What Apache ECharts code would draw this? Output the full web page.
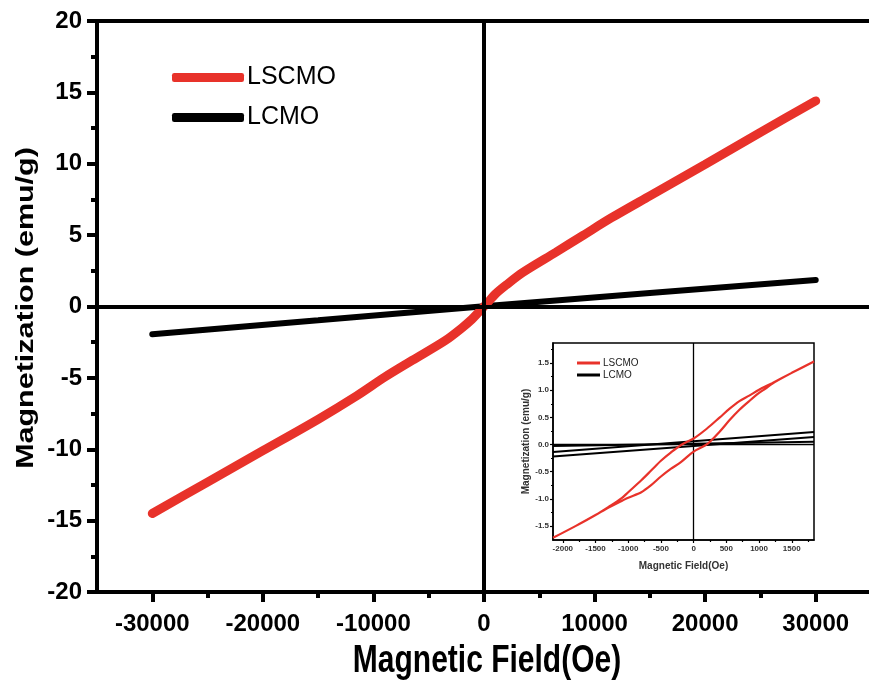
<!DOCTYPE html>
<html>
<head>
<meta charset="utf-8">
<script src="https://cdn.jsdelivr.net/npm/echarts@6/dist/echarts.min.js"></script>
<style>html,body{margin:0;padding:0;background:#fff;}#chart{width:869px;height:683px;}</style>
</head>
<body>
<div id="chart"></div>
<script>
// ---------- main plot data ----------
const lscmoMainField = [-30000,-25000,-20000,-15000,-11500,-9000,-6500,-3500,-2000,-1100,-500,0,500,1000,2000,3500,6500,9000,11500,15000,20000,25000,30000];
const lscmoMainMag   = [-14.5,-12.3,-10.1,-7.9,-6.25,-4.96,-3.78,-2.38,-1.5,-0.9,-0.42,0,0.42,0.85,1.5,2.38,3.8,5.0,6.2,7.75,9.95,12.2,14.4];
const lcmoMainField  = [-30000,-15000,0,15000,30000];
const lcmoMainMag    = [-1.95,-0.97,0.02,0.95,1.85];

// main axis ticks
const mainXMajor = [-30000,-20000,-10000,0,10000,20000,30000];
const mainXMinor = [-25000,-15000,-5000,5000,15000,25000];

// ---------- inset data (hysteresis loops) ----------
const lscmoInsetDescField = [1840,1500,1200,1000,850,700,550,400,200,0,-180,-350,-500,-650,-800,-1000,-1100,-1300,-1500,-1800,-2150];
const lscmoInsetDescMag   = [1.53,1.32,1.13,1.01,0.9,0.8,0.66,0.5,0.29,0.11,0,-0.15,-0.3,-0.48,-0.66,-0.88,-0.99,-1.15,-1.3,-1.5,-1.72];
const lscmoInsetAscField  = [-2150,-1800,-1500,-1300,-1100,-1000,-800,-650,-500,-350,-200,0,200,400,550,700,850,1000,1100,1200,1500,1840];
const lscmoInsetAscMag    = [-1.72,-1.5,-1.3,-1.16,-1.04,-0.98,-0.88,-0.75,-0.59,-0.45,-0.33,-0.13,0.0,0.24,0.45,0.64,0.8,0.95,1.03,1.12,1.32,1.53];
const lcmoInsetField   = [-2150,1840];
const lcmoInsetBranchA = [-0.14,0.23];
const lcmoInsetBranchB = [-0.22,0.14];
const lcmoInsetBranchC = [-0.03,0.05];

// inset axis ticks
const insetXMajor = [-2000,-1500,-1000,-500,0,500,1000,1500];
const insetXMinor = [-1750,-1250,-750,-250,250,750,1250,1750];
const insetYMajor = [-1.5,-1.0,-0.5,0.0,0.5,1.0,1.5];
const insetYMinor = [-1.25,-0.75,-0.25,0.25,0.75,1.25,1.75];

const FONT = '"Liberation Sans", Arial, sans-serif';
const RED = '#e8322a';
const zip = (a, b) => a.map((v, i) => [v, b[i]]);
const plain = v => String(Math.round(v));

const chart = echarts.init(document.getElementById('chart'));

// main grid: -35000 at left edge; the plot runs past the right edge of the picture
const MAIN_W = 790;
const MAIN_MAX = -35000 + 70000 * MAIN_W / 774;

const mainXCommon = {
  gridIndex: 0, type: 'value', min: -35000, max: MAIN_MAX, position: 'bottom',
  splitLine: { show: false }
};
const insetXCommon = {
  gridIndex: 1, type: 'value', min: -2150, max: 1840, position: 'bottom',
  splitLine: { show: false }
};
const insetYCommon = {
  gridIndex: 1, type: 'value', min: -1.76, max: 1.87, position: 'left',
  splitLine: { show: false }
};

chart.setOption({
  animation: false,
  backgroundColor: '#fff',
  grid: [
    { left: 97, top: 21, width: MAIN_W, height: 571, outerBoundsMode: 'none', containLabel: false,
      show: true, borderColor: '#000', borderWidth: 4, backgroundColor: 'transparent' },
    { left: 553, top: 343, width: 261, height: 197, outerBoundsMode: 'none', containLabel: false,
      show: true, borderColor: '#000', borderWidth: 1.5, backgroundColor: '#fff', z: 5 }
  ],
  xAxis: [
    Object.assign({}, mainXCommon, {
      axisLine: { onZero: false, lineStyle: { color: '#000', width: 4 } },
      axisTick: { show: true, customValues: mainXMajor, length: 10, lineStyle: { color: '#000', width: 4 } },
      axisLabel: { customValues: mainXMajor, formatter: plain, margin: 20, fontSize: 24, fontWeight: 'bold', color: '#000', fontFamily: FONT }
    }),
    Object.assign({}, mainXCommon, {
      axisLine: { show: false, onZero: false },
      axisTick: { show: true, customValues: mainXMinor, length: 6, lineStyle: { color: '#000', width: 4 } },
      axisLabel: { show: false }
    }),
    Object.assign({}, insetXCommon, {
      z: 6,
      axisLine: { onZero: false, lineStyle: { color: '#000', width: 1.5 } },
      axisTick: { show: true, customValues: insetXMajor, length: 3, lineStyle: { color: '#000', width: 1.2 } },
      axisLabel: { customValues: insetXMajor, formatter: plain, margin: 5, fontSize: 8, fontWeight: 'bold', color: '#333', fontFamily: FONT },
      name: 'Magnetic Field(Oe)', nameLocation: 'middle', nameGap: 21,
      nameTextStyle: { fontSize: 10, fontWeight: 'bold', color: '#333', fontFamily: FONT }
    }),
    Object.assign({}, insetXCommon, {
      z: 6,
      axisLine: { show: false, onZero: false },
      axisTick: { show: true, customValues: insetXMinor, length: 2, lineStyle: { color: '#000', width: 1.2 } },
      axisLabel: { show: false }
    })
  ],
  yAxis: [
    {
      gridIndex: 0, type: 'value', min: -20, max: 20, interval: 5, position: 'left',
      axisLine: { onZero: false, lineStyle: { color: '#000', width: 4 } },
      axisTick: { show: true, length: 10, lineStyle: { color: '#000', width: 4 } },
      minorTick: { show: true, splitNumber: 2, length: 6, lineStyle: { color: '#000', width: 4 } },
      axisLabel: { margin: 15, fontSize: 24, fontWeight: 'bold', color: '#000', fontFamily: FONT },
      splitLine: { show: false }, minorSplitLine: { show: false }
    },
    Object.assign({}, insetYCommon, {
      z: 6,
      axisLine: { onZero: false, lineStyle: { color: '#000', width: 1.5 } },
      axisTick: { show: true, customValues: insetYMajor, length: 3, lineStyle: { color: '#000', width: 1.2 } },
      axisLabel: { customValues: insetYMajor, margin: 4, fontSize: 8, fontWeight: 'bold', color: '#333', fontFamily: FONT,
                   formatter: v => Number(v).toFixed(1) },
      name: 'Magnetization (emu/g)', nameLocation: 'middle', nameGap: 22,
      nameTextStyle: { fontSize: 10, fontWeight: 'bold', color: '#333', fontFamily: FONT }
    }),
    Object.assign({}, insetYCommon, {
      z: 6,
      axisLine: { show: false, onZero: false },
      axisTick: { show: true, customValues: insetYMinor, length: 2, lineStyle: { color: '#000', width: 1.2 } },
      axisLabel: { show: false }
    })
  ],
  legend: [
    {
      data: ['LSCMO', 'LCMO'], orient: 'vertical', left: 172, top: 65, padding: 0,
      itemWidth: 72, itemHeight: 9, itemGap: 15, icon: 'roundRect',
      itemStyle: { borderWidth: 0 },
      textStyle: { fontSize: 25, color: '#000', fontFamily: FONT, padding: [0, 0, 0, -2] },
      selectedMode: false
    },
    {
      data: ['LSCMO', 'LCMO'], orient: 'vertical', left: 577, top: 358, padding: 0, z: 8,
      itemWidth: 23, itemHeight: 3, itemGap: 2, icon: 'rect',
      itemStyle: { borderWidth: 0 },
      textStyle: { fontSize: 10, color: '#222', fontFamily: FONT, padding: [0, 0, 0, -2] },
      selectedMode: false
    }
  ],
  graphic: [
    { type: 'text', x: 487, y: 662, scaleY: 1.27, z: 10,
      style: { text: 'Magnetic Field(Oe)', fontSize: 30, fontWeight: 'bold', fontFamily: FONT, fill: '#000', align: 'center', verticalAlign: 'middle' } },
    { type: 'text', x: 26, y: 308, rotation: Math.PI / 2, scaleX: 1.27, z: 10,
      style: { text: 'Magnetization (emu/g)', fontSize: 24, fontWeight: 'bold', fontFamily: FONT, fill: '#000', align: 'center', verticalAlign: 'middle' } }
  ],
  series: [
    {
      name: 'LCMO', type: 'line', xAxisIndex: 0, yAxisIndex: 0,
      data: zip(lcmoMainField, lcmoMainMag), showSymbol: false, symbol: 'none',
      itemStyle: { color: '#000' }, lineStyle: { color: '#000', width: 6, cap: 'round' },
      markLine: {
        silent: true, symbol: 'none', label: { show: false },
        lineStyle: { color: '#000', width: 4, type: 'solid' },
        data: [{ xAxis: 0 }, { yAxis: 0 }]
      }
    },
    {
      name: 'LSCMO', type: 'line', xAxisIndex: 0, yAxisIndex: 0,
      data: zip(lscmoMainField, lscmoMainMag), showSymbol: false, symbol: 'none', smooth: 0.3,
      itemStyle: { color: RED }, lineStyle: { color: RED, width: 9, cap: 'round' }
    },
    {
      name: 'LCMO', type: 'line', xAxisIndex: 2, yAxisIndex: 1, z: 6,
      data: zip(lcmoInsetField, lcmoInsetBranchA), showSymbol: false, symbol: 'none',
      itemStyle: { color: '#000' }, lineStyle: { color: '#000', width: 2 },
      markLine: {
        silent: true, symbol: 'none', label: { show: false },
        lineStyle: { color: '#000', width: 1.3, type: 'solid' },
        data: [{ xAxis: 0 }, { yAxis: 0 }]
      }
    },
    {
      name: 'LCMO', type: 'line', xAxisIndex: 2, yAxisIndex: 1, z: 6,
      data: zip(lcmoInsetField, lcmoInsetBranchB), showSymbol: false, symbol: 'none',
      itemStyle: { color: '#000' }, lineStyle: { color: '#000', width: 2 }
    },
    {
      name: 'LCMO', type: 'line', xAxisIndex: 2, yAxisIndex: 1, z: 6,
      data: zip(lcmoInsetField, lcmoInsetBranchC), showSymbol: false, symbol: 'none',
      itemStyle: { color: '#000' }, lineStyle: { color: '#000', width: 2 }
    },
    {
      name: 'LSCMO', type: 'line', xAxisIndex: 2, yAxisIndex: 1, z: 7,
      data: zip(lscmoInsetDescField, lscmoInsetDescMag).concat(zip(lscmoInsetAscField, lscmoInsetAscMag)),
      showSymbol: false, symbol: 'none', smooth: 0.3,
      itemStyle: { color: RED }, lineStyle: { color: RED, width: 2.2 }
    }
  ]
});
</script>
</body>
</html>
